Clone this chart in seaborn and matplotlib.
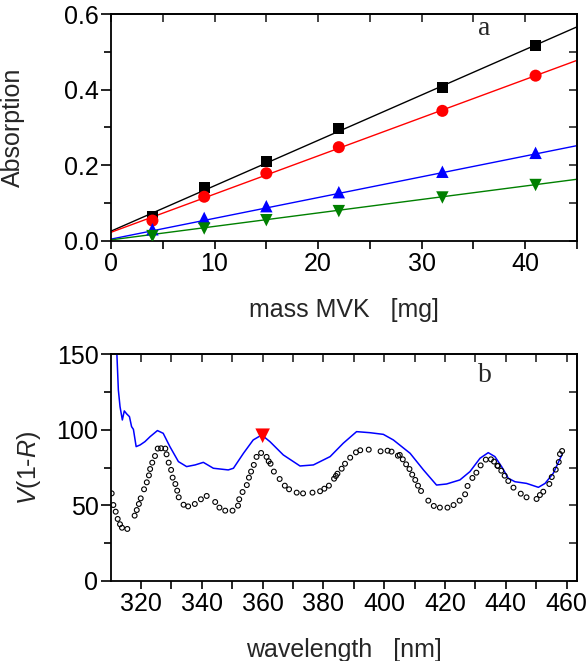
import matplotlib
matplotlib.use("Agg")
import matplotlib.pyplot as plt
from matplotlib.ticker import MultipleLocator
import seaborn as sns
import pandas as pd
import numpy as np

# ---------------- data: panel a ----------------
mass = [4, 9, 15, 22, 32, 41]
abs_black = [0.064, 0.142, 0.211, 0.297, 0.405, 0.516]
abs_red = [0.054, 0.117, 0.179, 0.248, 0.344, 0.437]
abs_blue = [0.031, 0.061, 0.092, 0.129, 0.183, 0.233]
abs_green = [0.013, 0.033, 0.055, 0.079, 0.115, 0.148]
# linear fits: intercept, slope
fit_intercept = [0.026, 0.023, 0.005, 0.003]
fit_slope = [0.0120, 0.0101, 0.00549, 0.00356]
fit_x = [0, 45]

# ---------------- data: panel b ----------------
wl_line = [311.9, 312.55, 313.1, 313.86, 314.5, 315.3, 316.2, 316.9, 317.5, 318.4, 319.7,
           321.3, 323.0, 325.4, 327.3, 329.5, 332.3, 335.0, 337.8, 340.5, 343.8, 348.7,
           350.4, 353.7, 356.9, 359.7, 362.4, 366.8, 372.3, 376.7, 382.2, 386.5, 390.9,
           395.3, 399.7, 403.0, 408.5, 412.9, 417.2, 420.5, 424.9, 428.2, 431.5, 434.2,
           436.4, 438.6, 440.8, 443.0, 446.8, 450.7, 452.9, 455.6, 458.4]
v_line = [158, 126.2, 115.2, 106.4, 112.4, 110.4, 108.6, 102.0, 100.2, 88.8, 89.9,
          92.1, 95.4, 99.4, 97.6, 88.8, 78.9, 75.6, 76.7, 78.4, 74.5, 73.4,
          74.5, 84.4, 93.2, 96.5, 92.1, 83.3, 76.0, 76.7, 82.2, 91.0, 98.7,
          98.0, 96.9, 93.2, 84.4, 73.4, 63.4, 64.1, 66.8, 72.3, 81.1, 84.8,
          82.2, 75.6, 67.9, 65.6, 64.5, 61.9, 64.5, 71.2, 83.3]

wl_pts = [310.35, 310.9, 311.67, 312.33, 313.09, 313.75, 315.5, 317.9, 318.6, 319.3, 319.9,
          321.0, 321.9, 322.6, 323.0, 323.7, 324.6, 325.5, 326.6, 328.0, 328.4, 329.1,
          329.9, 330.4, 331.3, 331.9, 332.4, 334.0, 335.5, 337.7, 339.7, 341.6, 344.4,
          345.8, 347.7, 350.1, 351.9, 352.3, 353.4, 354.8, 355.5, 356.2, 357.1, 358.0,
          359.5, 361.3, 362.0, 362.6, 363.7, 365.6, 367.3, 368.7, 371.2, 373.3, 376.4,
          378.9, 380.3, 381.8, 383.5, 384.1, 384.6, 386.0, 387.1, 388.8, 390.7, 392.1,
          394.9, 398.8, 401.1, 402.4, 404.5, 405.1, 406.1, 407.2, 408.3, 409.2, 410.2,
          411.1, 412.1, 414.5, 416.3, 418.3, 420.8, 422.8, 424.8, 426.6, 427.4, 429.0,
          430.3, 431.7, 433.4, 435.1, 436.1, 437.2, 437.4, 438.5, 439.6, 440.8, 442.5,
          444.9, 446.8, 450.1, 451.2, 452.3, 454.3, 455.1, 456.4, 457.4, 457.8, 458.5]
v_pts = [57.9, 50.2, 45.8, 41.0, 37.5, 35.2, 34.4, 43.2, 46.9, 50.9, 54.6,
         60.6, 65.2, 69.8, 74.0, 78.2, 82.6, 87.5, 87.7, 87.5, 83.7, 78.2,
         73.4, 68.3, 64.1, 59.7, 55.3, 50.4, 49.3, 50.9, 54.0, 56.2, 52.2,
         48.5, 46.5, 46.5, 49.8, 54.0, 58.8, 63.4, 68.3, 72.3, 76.7, 82.0,
         84.6, 82.0, 79.1, 77.5, 72.3, 67.4, 63.0, 60.6, 58.4, 57.9, 58.4,
         59.3, 61.0, 63.0, 67.6, 69.4, 70.9, 74.2, 77.5, 81.5, 85.0, 86.4,
         86.8, 85.7, 86.1, 85.5, 82.8, 83.3, 80.4, 77.1, 74.0, 70.3, 66.8,
         63.0, 59.5, 53.1, 49.6, 48.5, 48.5, 50.2, 53.1, 57.3, 62.8, 68.1,
         71.6, 76.4, 80.2, 80.4, 78.9, 76.2, 76.0, 72.9, 69.6, 66.1, 61.7,
         57.7, 55.3, 54.2, 56.8, 59.0, 64.1, 68.7, 73.6, 78.6, 83.9, 85.9]

peak_wl = [360]
peak_v = [96]

# ---------------- style ----------------
sns.set_style("ticks")
plt.rcParams['font.family'] = ['Liberation Sans', 'DejaVu Sans']
plt.rcParams['mathtext.fontset'] = 'custom'
plt.rcParams['mathtext.it'] = 'Liberation Sans:italic'
plt.rcParams['mathtext.rm'] = 'Liberation Sans'

FS = 18

fig = plt.figure(figsize=(5.88, 6.61), dpi=100)
ax1 = fig.add_axes([111 / 588, 1 - 241 / 661, 466 / 588, 227 / 661])
ax2 = fig.add_axes([111 / 588, 1 - 581 / 661, 466 / 588, 227 / 661])

colors = ['black', '#ff0000', '#0000ff', '#008000']
markers = ['s', 'o', '^', 'v']
msizes = [60, 75, 80, 80]
series = [abs_black, abs_red, abs_blue, abs_green]

for i in range(4):
    fy = [fit_intercept[i] + fit_slope[i] * x for x in fit_x]
    sns.lineplot(x=fit_x, y=fy, ax=ax1, color=colors[i], lw=1.0, zorder=2)
for i in range(4):
    sns.scatterplot(x=mass, y=series[i], ax=ax1, color=colors[i], marker=markers[i],
                    s=msizes[i], edgecolor='none', zorder=3)

ax1.set_xlim(0, 45)
ax1.set_ylim(0, 0.6)
ax1.xaxis.set_major_locator(MultipleLocator(10))
ax1.xaxis.set_minor_locator(MultipleLocator(5))
ax1.yaxis.set_major_locator(MultipleLocator(0.2))
ax1.yaxis.set_minor_locator(MultipleLocator(0.1))
ax1.yaxis.set_major_formatter(matplotlib.ticker.FormatStrFormatter('%.1f'))
ax1.set_xlabel('mass MVK   [mg]', fontsize=FS)
ax1.set_ylabel('Absorption', fontsize=FS)
ax1.text(0.800, 0.935, 'a', transform=ax1.transAxes, fontsize=20,
         family='Liberation Serif', ha='center', va='center')

# panel b
sns.lineplot(x=wl_line, y=v_line, ax=ax2, color='#0000ff', lw=1.1, sort=False, zorder=2)
sns.scatterplot(x=wl_pts, y=v_pts, ax=ax2, marker='o', s=12, facecolor='none',
                edgecolor='black', linewidth=0.8, zorder=3)
sns.scatterplot(x=peak_wl, y=peak_v, ax=ax2, marker='v', s=110, color='#ff0000',
                edgecolor='none', zorder=4)
ax2.set_xlim(310.13, 463.4)
ax2.set_ylim(0, 150)
ax2.xaxis.set_major_locator(MultipleLocator(20))
ax2.xaxis.set_minor_locator(MultipleLocator(10))
ax2.yaxis.set_major_locator(MultipleLocator(50))
ax2.yaxis.set_minor_locator(MultipleLocator(25))
ax2.set_xlabel('wavelength   [nm]', fontsize=FS)
ax2.set_ylabel(r'$\mathit{V}$(1-$\mathit{R}$)', fontsize=FS)
ax2.text(0.803, 0.905, 'b', transform=ax2.transAxes, fontsize=20,
         family='Liberation Serif', ha='center', va='center')

for ax in (ax1, ax2):
    for sp in ax.spines.values():
        sp.set_linewidth(1.3)
        sp.set_color('black')
        sp.set_visible(True)
    ax.tick_params(which='both', direction='out', top=False, right=False,
                   width=1.2, labelsize=FS, colors='black', pad=2)
    ax.tick_params(which='major', length=7)
    ax.tick_params(which='minor', length=5)
    ax.tick_params(axis='x', which='both', length=6)
    # mirrored inward ticks on top/right
    sx = ax.secondary_xaxis('top')
    sx.xaxis.set_major_locator(ax.xaxis.get_major_locator())
    sx.xaxis.set_minor_locator(ax.xaxis.get_minor_locator())
    sx.tick_params(which='both', direction='in', length=6, width=1.2, labeltop=False)
    sx.spines['top'].set_linewidth(1.3)
    sy = ax.secondary_yaxis('right')
    sy.yaxis.set_major_locator(ax.yaxis.get_major_locator())
    sy.yaxis.set_minor_locator(ax.yaxis.get_minor_locator())
    sy.tick_params(which='both', direction='in', length=6, width=1.2, labelright=False)
    sy.spines['right'].set_linewidth(1.3)
    ax.grid(False)

ax1.yaxis.set_label_coords(-0.185, 0.5)
ax2.yaxis.set_label_coords(-0.145, 0.5)
ax1.xaxis.set_label_coords(0.5, -0.25)
ax2.xaxis.set_label_coords(0.5, -0.25)
ax1.xaxis.label.set_va('top')
ax2.xaxis.label.set_va('top')

fig.savefig('out.png', dpi=100)
